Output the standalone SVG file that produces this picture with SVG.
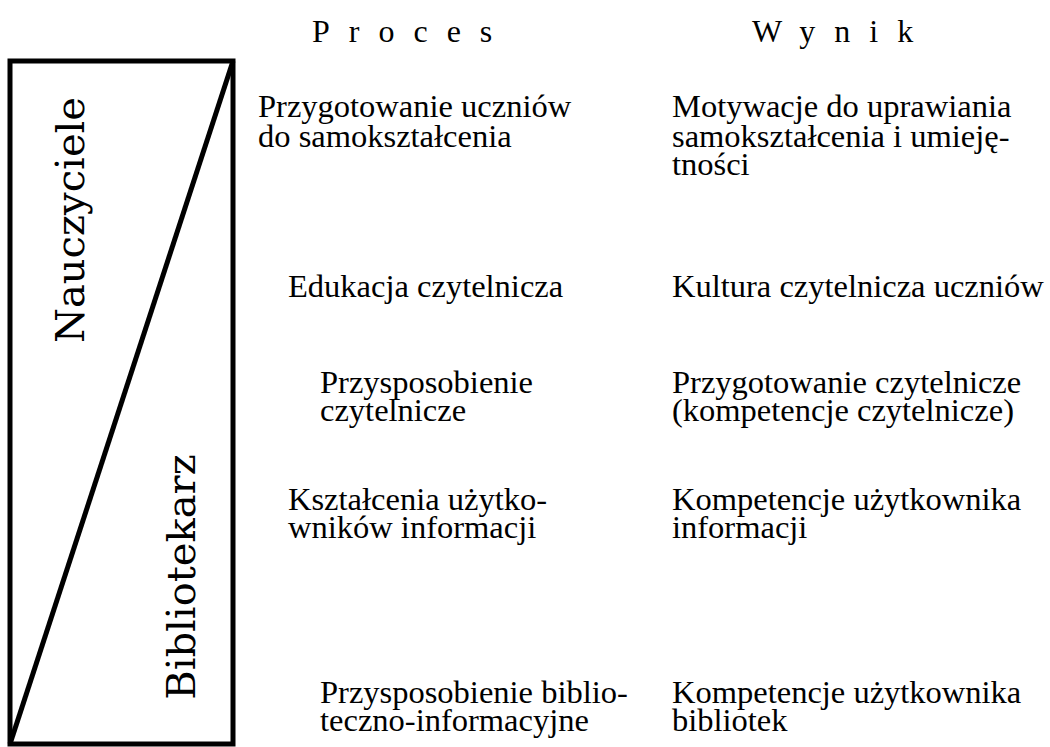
<svg xmlns="http://www.w3.org/2000/svg" width="1050" height="747" viewBox="0 0 1050 747">
<style>
.t{font-family:"Liberation Serif","Times New Roman",serif;font-size:32.5px;fill:#000}
.h{font-family:"Liberation Serif","Times New Roman",serif;font-size:32px;fill:#000;letter-spacing:19px}
.r{font-family:"DejaVu Serif",serif;font-size:40px;fill:#000}
.frame{fill:none;stroke:#000;stroke-width:5}
</style>
<rect width="1050" height="747" fill="#fff"/>
<g id="frame">
<rect class="frame" x="10" y="61" width="223" height="683"/>
</g>
<g id="connectors">
<line x1="233" y1="61" x2="10" y2="744" stroke="#000" stroke-width="5"/>
</g>
<g id="roles">
<text class="r" transform="translate(84,220) rotate(-90)" text-anchor="middle">Nauczyciele</text>
<text class="r" transform="translate(195,577) rotate(-90)" text-anchor="middle">Bibliotekarz</text>
</g>
<g id="headers">
<text class="h" x="312" y="42">Proces</text>
<text class="h" x="752" y="42">Wynik</text>
</g>
<g id="proces">
<text id="p1" class="t" x="258" y="117">Przygotowanie uczniów<tspan x="258" y="147">do samokształcenia</tspan></text>
<text id="p2" class="t" x="288" y="297">Edukacja czytelnicza</text>
<text id="p3" class="t" x="320" y="393">Przysposobienie<tspan x="320" y="421">czytelnicze</tspan></text>
<text id="p4" class="t" x="288" y="510">Kształcenia użytko-<tspan x="288" y="538">wników informacji</tspan></text>
<text id="p5" class="t" x="320" y="703">Przysposobienie biblio-<tspan x="320" y="731">teczno-informacyjne</tspan></text>
</g>
<g id="wynik">
<text id="w1" class="t" x="672" y="117">Motywacje do uprawiania<tspan x="672" y="147">samokształcenia i umieję-</tspan><tspan x="672" y="175">tności</tspan></text>
<text id="w2" class="t" x="672" y="297">Kultura czytelnicza uczniów</text>
<text id="w3" class="t" x="672" y="393">Przygotowanie czytelnicze<tspan x="672" y="421">(kompetencje czytelnicze)</tspan></text>
<text id="w4" class="t" x="672" y="510">Kompetencje użytkownika<tspan x="672" y="538">informacji</tspan></text>
<text id="w5" class="t" x="672" y="703">Kompetencje użytkownika<tspan x="672" y="731">bibliotek</tspan></text>
</g>
</svg>
